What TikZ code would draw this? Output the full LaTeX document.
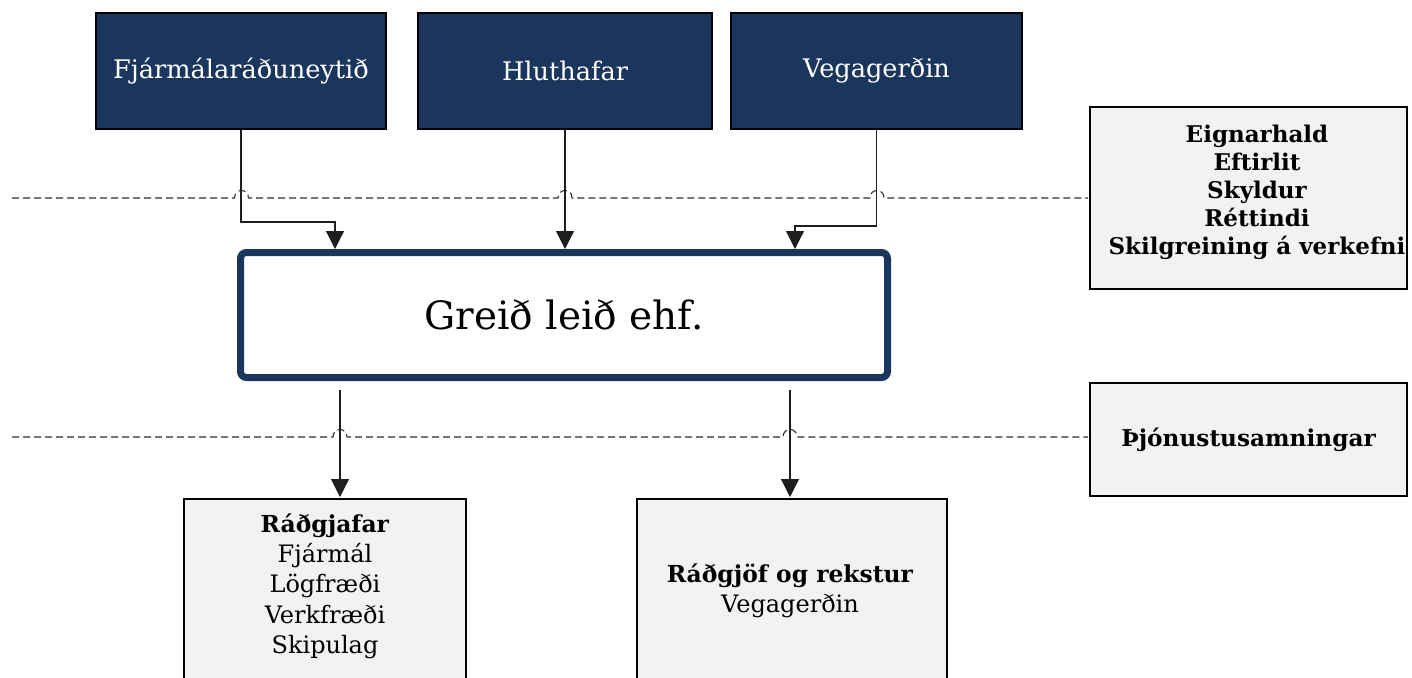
\documentclass[tikz,border=0pt]{standalone}
\usepackage{fontspec}
\setmainfont{DejaVu Serif}
\usetikzlibrary{arrows.meta,calc}
\definecolor{navy}{RGB}{27,54,93}
\definecolor{boxgrey}{RGB}{242,242,242}
\definecolor{linegrey}{RGB}{30,30,30}
\definecolor{dashgrey}{RGB}{45,45,45}
\begin{document}
\begin{tikzpicture}[x=1pt,y=-1pt,
  topbox/.style={draw=black, line width=2pt, fill=navy, text=white, minimum height=116pt, inner sep=0pt, font=\fontsize{25.6}{30}\selectfont},
  greybox/.style={draw=black, line width=1.8pt, fill=boxgrey, inner sep=0pt},
  mainbox/.style={draw=navy, line width=7pt, rounded corners=6pt, fill=white, minimum width=647pt, minimum height=125pt, inner sep=0pt, font=\fontsize{39}{44}\selectfont},
  conn/.style={draw=linegrey, line width=1.2pt},
  arr/.style={conn, -{Triangle[width=18pt,length=18pt]}},
  sep/.style={draw=dashgrey, line width=1.1pt, dash pattern=on 7pt off 4pt},
  bodytext/.style={align=center, inner sep=0pt}
]
\useasboundingbox (0,0) rectangle (1412,677);
\clip (0,0) rectangle (1412,677);
% top boxes
\node[topbox, minimum width=290pt] (f) at (241,71) {Fjármálaráðuneytið};
\node[topbox, minimum width=294pt] (h) at (565,71) {Hluthafar};
\node[topbox, minimum width=291pt] (v) at (876.5,71) {Vegagerðin};
% main box
\node[mainbox] (m) at (564,315) {Greið leið ehf.};
% right boxes
\node[greybox, minimum width=317pt, minimum height=182pt] (e) at (1248.5,198) {};
\node[bodytext, font=\bfseries\fontsize{23}{28}\selectfont] (et) at (1257,192)
  {Eignarhald\\Eftirlit\\Skyldur\\Réttindi\\Skilgreining á verkefni};
\node[greybox, minimum width=317pt, minimum height=113pt,
      font=\bfseries\fontsize{23.2}{28}\selectfont] (p) at (1248.5,439.5) {Þjónustusamningar};
% bottom boxes
\node[greybox, minimum width=282pt, minimum height=200pt, anchor=north west] (b1) at (183,498) {};
\node[greybox, minimum width=310pt, minimum height=200pt, anchor=north west] (b2) at (636,498) {};
\node[bodytext, font=\fontsize{24}{30.3}\selectfont] (b1t) at (325,586)
  {\textbf{\fontsize{23.4}{30.3}\selectfont Ráðgjafar}\\Fjármál\\Lögfræði\\Verkfræði\\Skipulag};
\node[bodytext, font=\fontsize{24}{30}\selectfont] (b2t) at (790,591)
  {\textbf{\fontsize{23.4}{30}\selectfont Ráðgjöf og rekstur}\\Vegagerðin};
% connector coordinates
\coordinate (m1) at (335,249);
\coordinate (m2) at (565,249);
\coordinate (m3) at (795,249);
\coordinate (s1) at (340,390);
\coordinate (s2) at (790,390);
\coordinate (t1) at (340,497);
\coordinate (t2) at (790,497);
% separators with hops
\coordinate (d1a) at (12,198);
\coordinate (d1b) at (1088,198);
\coordinate (d2a) at (12,437);
\coordinate (d2b) at (1088,437);
\draw[sep] (d1a) -- (234.5,198) .. controls (234.5,188) and (248.5,188) .. (248.5,198)
  -- (558,198) .. controls (558,188) and (572,188) .. (572,198)
  -- (870,198) .. controls (870,188) and (884,188) .. (884,198) -- (d1b);
\draw[sep] (d2a) -- (333,437) .. controls (333,427) and (347,427) .. (347,437)
  -- (783,437) .. controls (783,427) and (797,427) .. (797,437) -- (d2b);
% connectors
\draw[arr] (f.south) |- (335,222) -- (m1);
\draw[arr] (h.south) -- (m2);
\draw[arr] (v.south) |- (795,226) -- (m3);
\draw[arr] (s1) -- (t1);
\draw[arr] (s2) -- (t2);
\end{tikzpicture}
\end{document}
